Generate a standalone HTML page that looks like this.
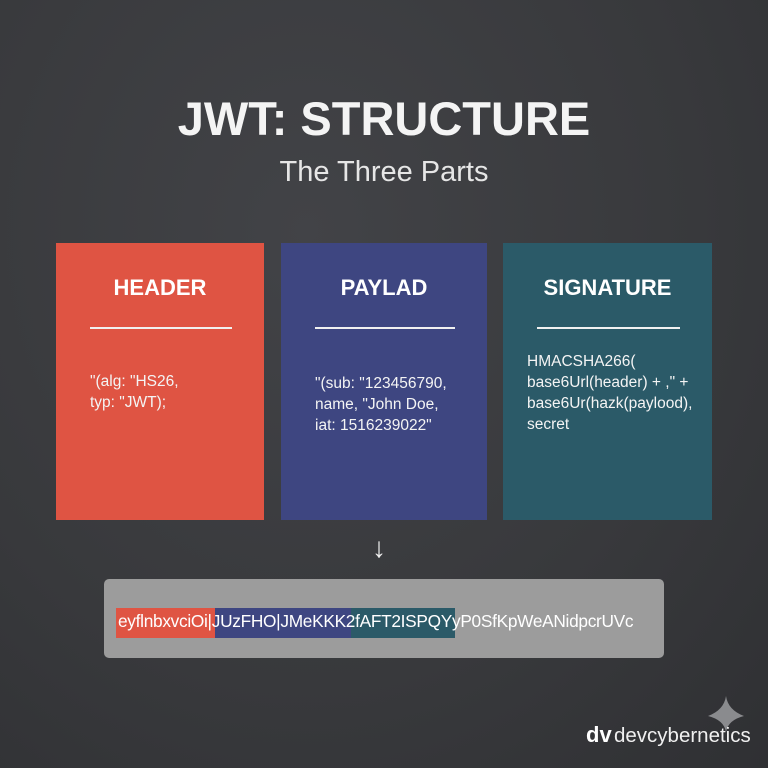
<!DOCTYPE html>
<html><head><style>
body{margin:0;width:768px;height:768px;overflow:hidden;background:radial-gradient(ellipse at 40% 30%,#424347 0%,#38393c 60%,#2f3033 100%);font-family:"Liberation Sans",sans-serif;position:relative;color:#fff}
.a{position:absolute}
.box{position:absolute;top:243px;height:277px}
.box h2{margin:0;position:absolute;top:32px;left:0;right:0;text-align:center;font-size:22px;font-weight:bold;color:#fff}
.box .ln{position:absolute;top:84px;left:34px;right:32px;height:2px;background:#f0f0f0}
.box .t{position:absolute;font-size:15.5px;line-height:21px;color:#f4f4f4}
</style></head><body>
<div class="a" style="top:91px;left:0;width:768px;text-align:center;font-size:47px;font-weight:bold;color:#f4f4f4">JWT: STRUCTURE</div>
<div class="a" style="top:156px;left:0;width:768px;text-align:center;font-size:29px;color:#e6e6e6">The Three Parts</div>

<div class="box" style="left:56px;width:208px;background:#df5443">
<h2>HEADER</h2><div class="ln"></div>
<div class="t" style="left:34px;top:128px">"(alg: "HS26,<br>typ: "JWT);</div></div>
<div class="box" style="left:281px;width:206px;background:#3e4681">
<h2>PAYLAD</h2><div class="ln"></div>
<div class="t" style="left:34px;top:130px">"(sub: "123456790,<br>name, "John Doe,<br>iat: 1516239022"</div></div>
<div class="box" style="left:503px;width:209px;background:#2b5a68">
<h2>SIGNATURE</h2><div class="ln"></div>
<div class="t" style="left:24px;top:108px">HMACSHA266(<br>base6Url(header) + ," +<br>base6Ur(hazk(paylood),<br>secret</div></div>

<div class="a" style="top:532px;left:372px;font-size:28px;color:#eee">↓</div>

<div class="a" style="top:579px;left:104px;width:560px;height:79px;background:#9c9c9c;border-radius:5px"></div>
<div class="a" style="top:608px;left:116px;width:99px;height:30px;background:#df5443"></div>
<div class="a" style="top:608px;left:215px;width:136px;height:30px;background:#3e4681"></div>
<div class="a" style="top:608px;left:351px;width:104px;height:30px;background:#2b5a68"></div>
<div class="a" style="top:611px;left:118px;font-size:17.3px;color:#fff;letter-spacing:-0.3px">eyflnbxvciOi|JUzFHO|JMeKKK2fAFT2ISPQYyP0SfKpWeANidpcrUVc</div>

<svg class="a" style="left:706px;top:694px" width="40" height="40"><path d="M20 2 Q22 16 38 22 Q22 26 20 38 Q18 26 2 22 Q18 16 20 2Z" fill="#8a8b8e"/></svg>
<div class="a" style="top:722px;left:586px;font-size:22px;font-weight:bold;color:#fff">dv</div>
<div class="a" style="top:724px;left:614px;font-size:20.5px;color:#f0f0f0">devcybernetics</div>
</body></html>
